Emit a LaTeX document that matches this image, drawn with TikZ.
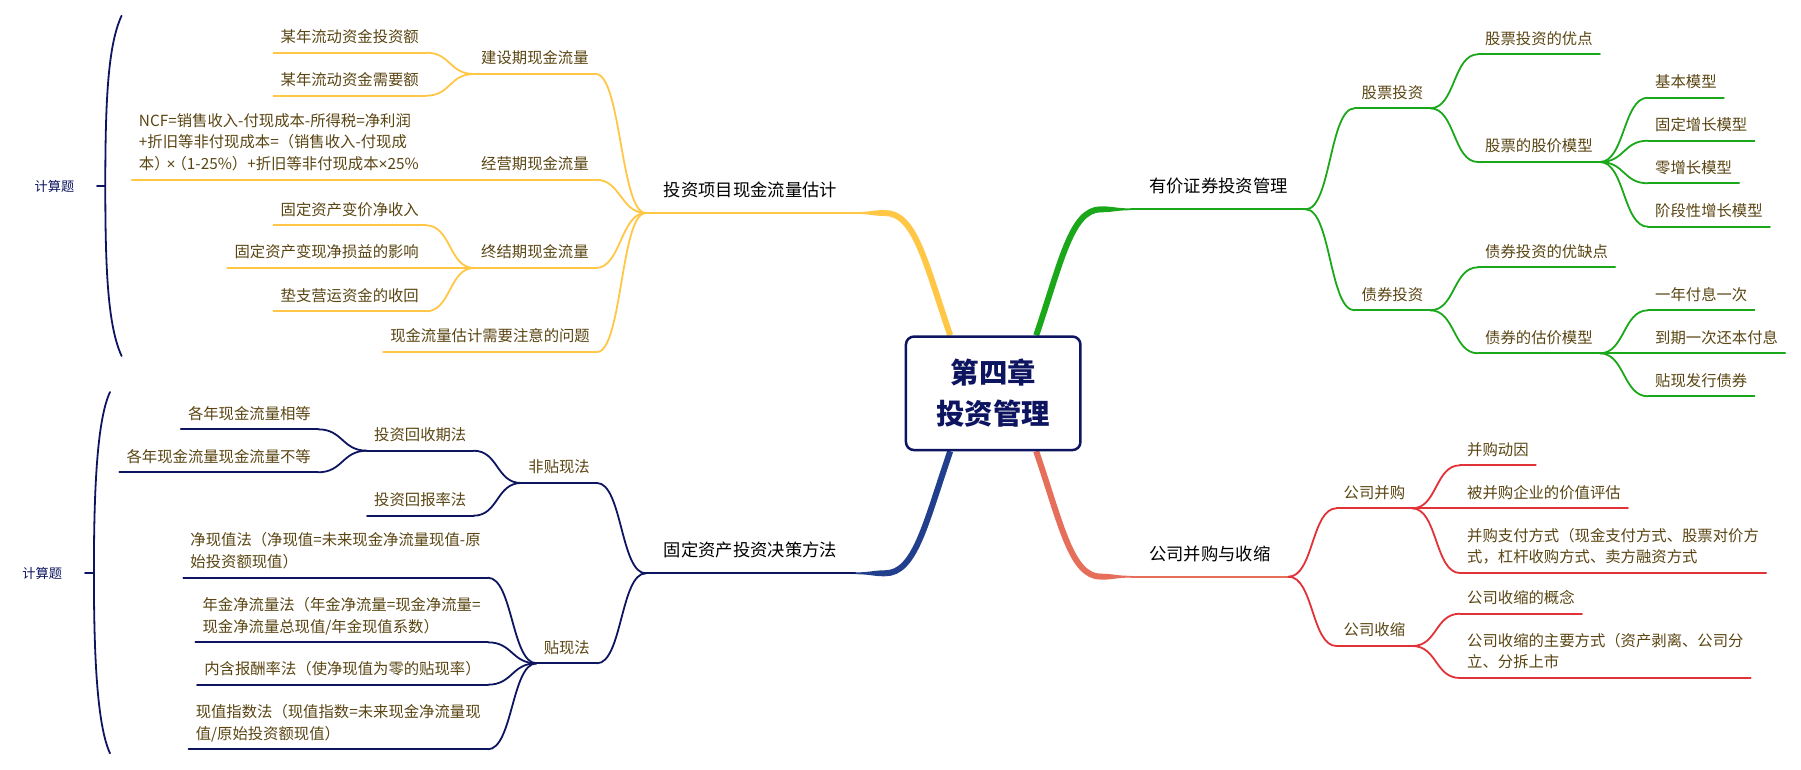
\documentclass[tikz,border=0pt]{standalone}
\usepackage{fontspec}
\setmainfont{Noto Sans CJK SC}
\newfontfamily\latinfont{Liberation Sans}
\newcommand{\timessign}{{\latinfont ×}}
\usetikzlibrary{backgrounds}
\definecolor{hubnavy}{HTML}{0E1560}
\definecolor{textbrown}{HTML}{5A4512}
\definecolor{lineyellow}{HTML}{FFC745}
\definecolor{linegreen}{HTML}{1AA81A}
\definecolor{linered}{HTML}{E03237}
\definecolor{trunknavy}{HTML}{213F8C}
\definecolor{trunkred}{HTML}{E56F5A}
\tikzset{
  topic/.style={inner xsep=7pt, inner ysep=3.6pt, text=textbrown, align=left,
    font=\fontsize{15.35}{21.5}\selectfont, execute at end node=\strut},
  leftnode/.style={topic, anchor=south east},
  rightnode/.style={topic, anchor=south west},
  maintopic/.style={inner xsep=18pt, inner ysep=9.9pt, text=black, anchor=south west,
    font=\fontsize{17.3}{22}\selectfont, execute at end node=\strut},
  hubnode/.style={draw=hubnavy, fill=white, line width=2.5pt, rounded corners=8pt, text=hubnavy,
    minimum width=174.5pt, minimum height=113.5pt, align=center,
    font=\fontsize{28.4}{41}\selectfont\bfseries},
  summary/.style={text=hubnavy, inner sep=0pt, font=\fontsize{13.2}{16}\selectfont},
  thin line/.style={line width=1.8pt, line cap=round},
  trunk line/.style={line width=6pt},
}
\begin{document}
\begin{tikzpicture}[x=1pt, y=-1pt, line join=round]
\useasboundingbox (0,0) rectangle (1801,769);
% centre
\node[hubnode] (hub) at (993.2,393.3) {第四章\\投资管理};
% main topics
\node[maintopic] (mainA) at (645.7,213) {投资项目现金流量估计};
\node[maintopic] (mainB) at (645.7,573.3) {固定资产投资决策方法};
\node[maintopic] (mainC) at (1131,209.3) {有价证券投资管理};
\node[maintopic] (mainD) at (1131,576.7) {公司并购与收缩};
\coordinate (turnA) at (885,213);
\coordinate (turnB) at (885,573.3);
\coordinate (turnC) at (1101,209.3);
\coordinate (turnD) at (1101,576.7);
% cash flow branch
\node[rightnode] (jianshe) at (474,74) {建设期现金流量};
\node[leftnode] (touzi) at (426,52.7) {某年流动资金投资额};
\node[leftnode] (xuyao) at (426,95.7) {某年流动资金需要额};
\node[rightnode] (jingying) at (474,179.7) {经营期现金流量};
\node[leftnode] (ncf) at (426,179.7) {NCF=销售收入-付现成本-所得税=净利润\\+折旧等非付现成本=（销售收入-付现成\\本）\hspace{-3pt}\timessign\hspace{-4pt}（1-25\%）+折旧等非付现成本\timessign 25\%};
\node[rightnode] (zhongjie) at (474,268) {终结期现金流量};
\node[leftnode] (bianjia) at (426,225.3) {固定资产变价净收入};
\node[leftnode] (sunyi) at (426,268) {固定资产变现净损益的影响};
\node[leftnode] (huishou) at (426,311.3) {垫支营运资金的收回};
\node[leftnode] (wenti) at (597,352) {现金流量估计需要注意的问题};
% decision branch
\node[leftnode] (feitiexian) at (597,483) {非贴现法};
\node[leftnode] (tiexian) at (597,663.3) {贴现法};
\node[leftnode] (qi) at (473.5,450.7) {投资回收期法};
\node[leftnode] (baochou) at (473.5,515.7) {投资回报率法};
\node[leftnode] (xiangdeng) at (318,429.3) {各年现金流量相等};
\node[leftnode] (budeng) at (318,472.3) {各年现金流量现金流量不等};
\node[leftnode] (jingxian) at (487.8,577.7) {净现值法（净现值=未来现金净流量现值-原\\始投资额现值）};
\node[leftnode] (nianjin) at (487.8,642.3) {年金净流量法（年金净流量=现金净流量=\\现金净流量总现值/年金现值系数）};
\node[leftnode] (neihan) at (487.8,684.7) {内含报酬率法（使净现值为零的贴现率）};
\node[leftnode] (zhishu) at (487.8,749.3) {现值指数法（现值指数=未来现金净流量现\\值/原始投资额现值）};
% securities branch
\node[rightnode] (gupiao) at (1354.5,108.3) {股票投资};
\node[rightnode] (zhaiquan) at (1354.5,310.3) {债券投资};
\node[rightnode] (youdian) at (1478,54.3) {股票投资的优点};
\node[rightnode] (gujia) at (1478,162) {股票的股价模型};
\node[rightnode] (jiben) at (1648,97.7) {基本模型};
\node[rightnode] (guding) at (1648,140.7) {固定增长模型};
\node[rightnode] (ling) at (1648,183.3) {零增长模型};
\node[rightnode] (jieduan) at (1648,226.7) {阶段性增长模型};
\node[rightnode] (youque) at (1478,267.3) {债券投资的优缺点};
\node[rightnode] (zhaigu) at (1478,353.3) {债券的估价模型};
\node[rightnode] (yinian) at (1648,310.3) {一年付息一次};
\node[rightnode] (daoqi) at (1648,353.3) {到期一次还本付息};
\node[rightnode] (faxing) at (1648,396.3) {贴现发行债券};
% merger branch
\node[rightnode] (binggou) at (1336.5,508.3) {公司并购};
\node[rightnode] (shousuo) at (1336.5,646) {公司收缩};
\node[rightnode] (dongyin) at (1460,465.3) {并购动因};
\node[rightnode] (pinggu) at (1460,508.3) {被并购企业的价值评估};
\node[rightnode] (zhifu) at (1460,573) {并购支付方式（现金支付方式、股票对价方\\式，杠杆收购方式、卖方融资方式};
\node[rightnode] (gainian) at (1460,613.7) {公司收缩的概念};
\node[rightnode] (fangshi) at (1460,678) {公司收缩的主要方式（资产剥离、公司分\\立、分拆上市};
% underlines and links
\foreach \n in {mainA,jianshe,touzi,xuyao,jingying,ncf,zhongjie,bianjia,sunyi,huishou,wenti}
  \draw[thin line,lineyellow] (\n.south west)--(\n.south east);
\foreach \a/\b in {touzi/jianshe,xuyao/jianshe,ncf/jingying,bianjia/zhongjie,sunyi/zhongjie,huishou/zhongjie,jianshe/mainA,jingying/mainA,zhongjie/mainA,wenti/mainA}
  \draw[thin line,lineyellow] (\a.south east) .. controls +(25,0) and +(-25,0) .. (\b.south west);
\foreach \n in {mainB,feitiexian,tiexian,qi,baochou,xiangdeng,budeng,jingxian,nianjin,neihan,zhishu}
  \draw[thin line,hubnavy] (\n.south west)--(\n.south east);
\foreach \a/\b in {xiangdeng/qi,budeng/qi,qi/feitiexian,baochou/feitiexian,jingxian/tiexian,nianjin/tiexian,neihan/tiexian,zhishu/tiexian,feitiexian/mainB,tiexian/mainB}
  \draw[thin line,hubnavy] (\a.south east) .. controls +(25,0) and +(-25,0) .. (\b.south west);
\foreach \n in {mainC,gupiao,zhaiquan,youdian,gujia,jiben,guding,ling,jieduan,youque,zhaigu,yinian,daoqi,faxing}
  \draw[thin line,linegreen] (\n.south west)--(\n.south east);
\foreach \a/\b in {mainC/gupiao,mainC/zhaiquan,gupiao/youdian,gupiao/gujia,gujia/jiben,gujia/guding,gujia/ling,gujia/jieduan,zhaiquan/youque,zhaiquan/zhaigu,zhaigu/yinian,zhaigu/daoqi,zhaigu/faxing}
  \draw[thin line,linegreen] (\a.south east) .. controls +(25,0) and +(-25,0) .. (\b.south west);
\foreach \n in {binggou,shousuo,dongyin,pinggu,zhifu,gainian,fangshi}
  \draw[thin line,linered] (\n.south west)--(\n.south east);
\draw[thin line,trunkred] (mainD.south west)--(mainD.south east);
\foreach \a/\b in {mainD/binggou,mainD/shousuo}
  \draw[thin line,linered] (\a.south east) .. controls +(25,0) and +(-25,0) .. (\b.south west);
\foreach \a/\b in {binggou/dongyin,binggou/pinggu,binggou/zhifu,shousuo/gainian,shousuo/fangshi}
  \draw[thin line,linered] (\a.south east) .. controls +(25,0) and +(-25,0) .. (\b.south west);
% trunks to the centre
\begin{scope}[on background layer]
\draw[trunk line,lineyellow] (turnA) .. controls +(30,0) and +(-25,-73) .. ([xshift=-43pt]hub.north);
\draw[trunk line,trunknavy] (turnB) .. controls +(30,0) and +(-25,73) .. ([xshift=-43pt]hub.south);
\draw[trunk line,linegreen] (turnC) .. controls +(-30,0) and +(25,-73) .. ([xshift=43pt]hub.north);
\draw[trunk line,trunkred] (turnD) .. controls +(-30,0) and +(25,73) .. ([xshift=43pt]hub.south);
\foreach \m/\t/\c in {mainA/turnA/lineyellow,mainB/turnB/trunknavy}
  \fill[\c] ([yshift=.9pt]\m.south east) .. controls +(15,0) and +(-12,0) .. ([yshift=3pt]\t.center) -- ([yshift=-3pt]\t.center) .. controls +(-12,0) and +(15,0) .. ([yshift=-.9pt]\m.south east) -- cycle;
\foreach \m/\t/\c in {mainC/turnC/linegreen,mainD/turnD/trunkred}
  \fill[\c] ([yshift=.9pt]\m.south west) .. controls +(-15,0) and +(12,0) .. ([yshift=3pt]\t.center) -- ([yshift=-3pt]\t.center) .. controls +(12,0) and +(-15,0) .. ([yshift=-.9pt]\m.south west) -- cycle;
\end{scope}
% summaries
\node[summary] (sumA) at (54.5,186) {计算题};
\coordinate (tickA) at (97,185.7);
\coordinate (braceA) at (105.3,185.7);
\draw[thin line,hubnavy] (tickA)--(braceA);
\draw[thin line,hubnavy] (121.6,15.7) .. controls (108,45) and (105.3,100) .. (braceA) .. controls (105.3,272) and (108,326) .. (121.6,356);
\node[summary] (sumB) at (42.2,573.3) {计算题};
\coordinate (tickB) at (85,572.7);
\coordinate (braceB) at (93.9,572.7);
\draw[thin line,hubnavy] (tickB)--(braceB);
\draw[thin line,hubnavy] (110,392) .. controls (97,420) and (93.9,490) .. (braceB) .. controls (93.9,655) and (97,725) .. (110,753.3);
\end{tikzpicture}
\end{document}
